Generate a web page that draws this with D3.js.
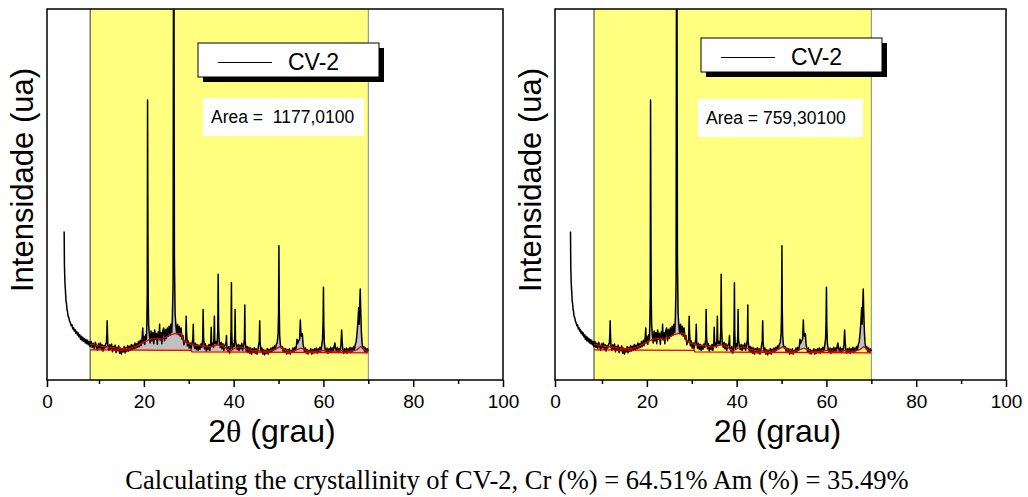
<!DOCTYPE html>
<html>
<head>
<meta charset="utf-8">
<script src="https://cdn.jsdelivr.net/npm/d3@7"></script>
<style>
  body { margin: 0; background: #fff; }
  svg { display: block; }
</style>
</head>
<body>
<svg id="chart"></svg>
<script>
// XRD pattern of CV-2: [2theta (deg), intensity (a.u.)]
const cv2Pattern = [
  [3.3,400],[3.35,310],[3.45,262],[3.55,240],[3.65,214],[3.75,205],[3.85,190],[3.95,184],[4.05,172],[4.2,168],
  [4.35,158],[4.5,154],[4.65,146],[4.8,149],[4.95,138],[5.1,141],[5.25,132],[5.4,136],[5.55,126],[5.7,131],
  [5.85,121],[6.0,127],[6.15,116],[6.3,122],[6.45,110],[6.6,118],[6.75,106],[6.9,115],[7.05,104],[7.2,112],
  [7.35,100],[7.5,109],[7.65,98],[7.8,107],[7.95,95],[8.1,104],
  [8.3,90],[8.5,104],[8.7,88],[8.9,99],[9.1,84],[9.3,102],[9.5,92],[9.7,80],[9.9,98],[10.1,87],[10.3,100],
  [10.5,82],[10.7,95],[10.9,78],[11.1,93],[11.3,86],[11.5,98],
  [11.65,100],[11.75,125],[11.82,160],[11.9,118],[12.0,92],
  [12.2,80],[12.4,95],[12.6,83],[12.8,97],[13.0,76],[13.2,90],[13.4,81],[13.6,94],[13.8,74],[14.0,88],
  [14.2,79],[14.4,92],[14.6,72],[14.8,86],[15.0,70],[15.2,84],[15.4,76],[15.6,90],[15.8,73],[16.0,88],
  [16.2,77],[16.4,93],[16.6,78],[16.8,91],[17.0,80],[17.2,96],[17.4,82],[17.6,94],[17.8,84],[18.0,100],
  [18.2,86],[18.4,98],[18.6,88],[18.8,104],[19.0,90],[19.2,107],[19.4,93],[19.6,112],
  [19.75,140],[19.85,100],[20.0,118],[20.2,96],[20.4,122],
  [20.55,110],[20.65,150],[20.75,230],[20.82,755],[20.9,400],[20.97,220],[21.05,150],
  [21.2,125],[21.4,100],[21.6,132],[21.8,105],[22.0,128],[22.2,98],[22.4,135],[22.6,110],[22.8,126],
  [23.0,96],[23.2,130],[23.4,112],[23.5,150],[23.6,108],
  [23.8,128],[24.0,98],[24.2,133],[24.4,140],[24.6,106],[24.8,136],[25.0,112],[25.2,140],[25.4,118],
  [25.6,145],[25.8,120],[26.0,150],[26.2,128],
  [26.35,170],[26.5,260],[26.6,1150],[26.7,1150],[26.8,330],[26.95,180],
  [27.1,150],[27.3,125],[27.5,150],[27.7,122],[27.9,145],[28.1,118],[28.3,140],[28.5,110],[28.7,120],[28.9,95],
  [29.3,110],[29.42,172],[29.5,130],
  [29.7,92],[29.9,105],[30.1,86],[30.3,100],[30.5,84],[30.7,98],
  [30.9,110],[31.0,150],[31.1,100],
  [31.3,85],[31.5,99],[31.7,82],[31.9,96],[32.1,80],[32.3,94],[32.5,83],[32.7,97],[32.9,88],
  [33.1,110],[33.2,190],[33.3,115],
  [33.5,84],[33.7,98],[33.9,78],[34.1,92],[34.3,82],[34.5,96],[34.7,80],
  [34.9,100],[35.0,142],[35.1,92],[35.3,100],[35.5,88],
  [35.62,120],[35.7,172],[35.78,110],[35.9,98],[36.1,104],[36.3,96],
  [36.45,130],[36.55,285],[36.65,140],
  [36.8,100],[37.0,88],[37.2,102],[37.4,84],[37.6,98],[37.8,80],[38.0,92],
  [38.3,100],[38.4,120],[38.5,86],
  [38.7,78],[38.9,90],[39.1,72],[39.3,86],
  [39.42,140],[39.5,262],[39.58,130],
  [39.7,84],[39.9,98],[40.1,90],
  [40.25,120],[40.32,190],[40.4,110],
  [40.6,92],[40.8,82],[41.0,96],[41.2,80],[41.4,94],[41.6,84],[41.8,99],[42.0,80],[42.2,92],
  [42.4,110],[42.48,202],[42.56,105],
  [42.8,78],[43.0,90],[43.2,74],[43.4,88],[43.6,72],[43.8,86],[44.0,70],[44.2,84],[44.4,74],[44.6,87],
  [44.8,72],[45.0,84],[45.2,70],[45.4,82],
  [45.7,105],[45.8,160],[45.9,100],
  [46.1,76],[46.3,86],[46.5,70],[46.7,82],[46.9,68],[47.1,80],[47.3,72],[47.5,85],[47.7,70],[47.9,83],
  [48.1,74],[48.3,86],[48.5,76],[48.7,88],[48.9,80],[49.1,92],[49.3,84],[49.5,96],[49.7,100],
  [49.9,125],[50.0,180],[50.08,362],[50.16,190],[50.25,120],
  [50.4,96],[50.6,86],[50.8,90],[51.0,78],[51.2,86],[51.4,74],[51.6,84],[51.8,70],[52.0,82],[52.2,72],
  [52.4,84],[52.6,70],[52.8,80],[53.0,74],[53.2,86],[53.4,76],[53.6,88],[53.8,80],
  [54.0,95],[54.1,110],[54.2,98],[54.4,104],
  [54.7,110],[54.85,162],[54.95,130],[55.1,118],[55.3,125],[55.45,98],
  [55.6,88],[55.8,76],[56.0,86],[56.2,72],[56.4,82],[56.6,70],[56.8,80],[57.0,74],[57.2,84],[57.4,70],
  [57.6,82],[57.8,72],[58.0,84],[58.2,74],[58.4,86],[58.6,72],[58.8,84],[59.0,76],[59.2,88],[59.4,78],[59.6,92],
  [59.8,110],[59.92,160],[60.0,250],[60.08,150],[60.2,100],
  [60.4,82],[60.6,74],[60.8,86],[61.0,72],[61.2,84],[61.4,76],[61.6,88],[61.8,74],[62.0,86],[62.2,80],
  [62.4,92],[62.55,100],[62.7,84],
  [62.9,78],[63.1,88],[63.3,74],[63.5,84],[63.7,78],[63.9,96],
  [64.05,135],[64.15,110],
  [64.3,82],[64.5,72],[64.7,84],[64.9,74],[65.1,86],[65.3,72],[65.5,84],[65.7,76],[65.9,88],[66.1,74],
  [66.3,86],[66.5,78],[66.7,90],[66.9,82],[67.1,96],[67.3,104],[67.5,128],
  [67.7,160],[67.85,195],[67.95,150],[68.1,210],[68.2,245],[68.3,190],[68.45,130],[68.6,100],
  [68.8,84],[69.0,90],[69.2,76],[69.4,86],[69.6,74],[69.8,84],[70.0,78]
];

// smoothed amorphous halo (red wavy line)
const amorphousFit = [
  [8.3,97],[10,92],[12,89],[14,86],[15.5,84],[17,86],[18.5,92],[20,102],[21.5,110],[23,112],[24,110],
  [25,116],[26,122],[27,125],[28.3,125],[28.8,106],[29.5,100],[31,94],[33,92],[34.8,89],[36.5,95],
  [37.5,92],[38.5,84],[39.3,79],[40.3,86],[41.5,89],[43,83],[44,80],[46,78],[48,78],[49.5,84],[50.3,90],
  [51.5,80],[53,77],[55,86],[56.5,78],[58,77],[60,80],[62,77],[64,79],[66,77],[67.5,82],[68.3,90],
  [69.3,80],[70,77]
];

// flat background (red straight line)
const flatBaseline = [[8.3,81],[30.6,80],[30.7,76],[70,73]];

const crystalRange = [8.3, 70];
const xTicks = [0, 20, 40, 60, 80, 100];
const xMinorTicks = [10, 30, 50, 70, 90];
const seriesName = "CV-2";
const areaLabels = ["Area =  1177,0100", "Area = 759,30100"];
const caption = "Calculating the crystallinity of CV-2, Cr (%) = 64.51% Am (%) = 35.49%";

// panel layout (left: total area above flat line, right: crystalline area above halo)
const panels = [
  { x0: 47, x10: 99, x100: 503, ref: "flat", area: areaLabels[0],
    legend: { x: 198, y: 43 }, areaBox: { x: 203, y: 98, w: 161 } },
  { x0: 555, x10: 602, x100: 1006, ref: "halo", area: areaLabels[1],
    legend: { x: 701, y: 38 }, areaBox: { x: 698, y: 99, w: 165 } }
];

const width = 1028;
const height = 497;
const plotTop = 9;
const plotBottom = 380;
const sans = "'Liberation Sans', Arial, sans-serif";
const serif = "'Liberation Serif', 'Times New Roman', serif";

const svg = d3
  .select("#chart")
  .attr("width", width)
  .attr("height", height)
  .attr("viewBox", [0, 0, width, height])
  .style("font-family", sans);

const y = d3.scaleLinear().domain([0, 1000]).range([plotBottom, plotTop]);

// piecewise-linear lookups for the two reference lines
const haloAt = d3.scaleLinear().domain(amorphousFit.map((d) => d[0])).range(amorphousFit.map((d) => d[1])).clamp(true);
const flatAt = d3.scaleLinear().domain(flatBaseline.map((d) => d[0])).range(flatBaseline.map((d) => d[1])).clamp(true);

panels.forEach((p, i) => {
  const x = d3.scaleLinear().domain([0, 10, 100]).range([p.x0, p.x10, p.x100]);
  const g = svg.append("g");
  const clipId = "plot-clip-" + i;

  g.append("clipPath")
    .attr("id", clipId)
    .append("rect")
    .attr("x", p.x0)
    .attr("y", plotTop)
    .attr("width", p.x100 - p.x0)
    .attr("height", plotBottom - plotTop);

  // highlighted integration window
  g.append("rect")
    .attr("x", x(crystalRange[0]))
    .attr("y", plotTop)
    .attr("width", x(crystalRange[1]) - x(crystalRange[0]))
    .attr("height", plotBottom - plotTop)
    .attr("fill", "#ffff80");

  g.append("line")
    .attr("x1", x(crystalRange[0])).attr("x2", x(crystalRange[0]))
    .attr("y1", plotTop).attr("y2", plotBottom)
    .attr("stroke", "#333").attr("stroke-width", 1);
  g.append("line")
    .attr("x1", x(crystalRange[1])).attr("x2", x(crystalRange[1]))
    .attr("y1", plotTop).attr("y2", plotBottom)
    .attr("stroke", "#888").attr("stroke-width", 1);

  const refAt = p.ref === "flat" ? flatAt : haloAt;
  const inWindow = cv2Pattern.filter((d) => d[0] >= crystalRange[0] && d[0] <= crystalRange[1]);

  const plot = g.append("g").attr("clip-path", `url(#${clipId})`);

  // integrated (grey) area
  plot.append("path")
    .datum(inWindow)
    .attr("fill", "#c0c0c0")
    .attr("d", d3.area()
      .x((d) => x(d[0]))
      .y0((d) => y(refAt(d[0])))
      .y1((d) => y(Math.max(d[1], refAt(d[0])))));

  // measured pattern
  plot.append("path")
    .datum(cv2Pattern)
    .attr("fill", "none")
    .attr("stroke", "#000")
    .attr("stroke-width", 1.5)
    .attr("stroke-linejoin", "round")
    .attr("d", d3.line().x((d) => x(d[0])).y((d) => y(d[1])));

  // red fit lines
  [amorphousFit, flatBaseline].forEach((data) => {
    plot.append("path")
      .datum(data)
      .attr("fill", "none")
      .attr("stroke", "#e00000")
      .attr("stroke-width", 1.3)
      .attr("d", d3.line().x((d) => x(d[0])).y((d) => y(d[1])));
  });

  // frame
  g.append("rect")
    .attr("x", p.x0)
    .attr("y", plotTop)
    .attr("width", p.x100 - p.x0)
    .attr("height", plotBottom - plotTop)
    .attr("fill", "none")
    .attr("stroke", "#000")
    .attr("stroke-width", 1.5);

  // x axis
  g.append("g")
    .attr("transform", `translate(0,${plotBottom})`)
    .call(d3.axisBottom(x).tickValues(xTicks).tickSize(7).tickSizeOuter(0).tickPadding(8))
    .call((a) => a.select(".domain").remove())
    .call((a) => a.selectAll(".tick line").attr("stroke-width", 1.5))
    .call((a) => a.selectAll(".tick text").attr("font-size", 19).attr("font-family", sans).attr("fill", "#000"));

  g.append("g")
    .attr("transform", `translate(0,${plotBottom})`)
    .call(d3.axisBottom(x).tickValues(xMinorTicks).tickSize(4).tickSizeOuter(0).tickFormat(""))
    .call((a) => a.select(".domain").remove())
    .call((a) => a.selectAll(".tick line").attr("stroke-width", 1.5));

  // axis titles
  const xt = g.append("text")
    .attr("x", (p.x0 + p.x100) / 2 - 3)
    .attr("y", 442)
    .attr("text-anchor", "middle")
    .attr("font-size", 32);
  xt.append("tspan").text("2");
  xt.append("tspan").attr("font-family", serif).text("\u03b8");
  xt.append("tspan").text(" (grau)");

  g.append("text")
    .attr("transform", `translate(${p.x0 - 14},180) rotate(-90)`)
    .attr("text-anchor", "middle")
    .attr("font-size", 31)
    .text("Intensidade (ua)");

  // legend with drop shadow
  const lg = g.append("g").attr("transform", `translate(${p.legend.x},${p.legend.y})`);
  lg.append("rect").attr("x", 5).attr("y", 5).attr("width", 181).attr("height", 34).attr("fill", "#000");
  lg.append("rect").attr("width", 181).attr("height", 34).attr("fill", "#fff").attr("stroke", "#000").attr("stroke-width", 1);
  lg.append("line").attr("x1", 20).attr("x2", 74).attr("y1", 19.5).attr("y2", 19.5).attr("stroke", "#000").attr("stroke-width", 1);
  lg.append("text").attr("x", 90).attr("y", 26.5).attr("font-size", 23).text(seriesName);

  // area box
  g.append("rect")
    .attr("x", p.areaBox.x)
    .attr("y", p.areaBox.y)
    .attr("width", p.areaBox.w)
    .attr("height", 38)
    .attr("fill", "#fff");
  g.append("text")
    .attr("x", p.areaBox.x + 8)
    .attr("y", p.areaBox.y + 25)
    .attr("font-size", 17.5)
    .attr("xml:space", "preserve")
    .text(p.area);
});

svg.append("text")
  .attr("x", 517)
  .attr("y", 489)
  .attr("text-anchor", "middle")
  .attr("font-family", serif)
  .attr("font-size", 26.5)
  .text(caption);
</script>
</body>
</html>
